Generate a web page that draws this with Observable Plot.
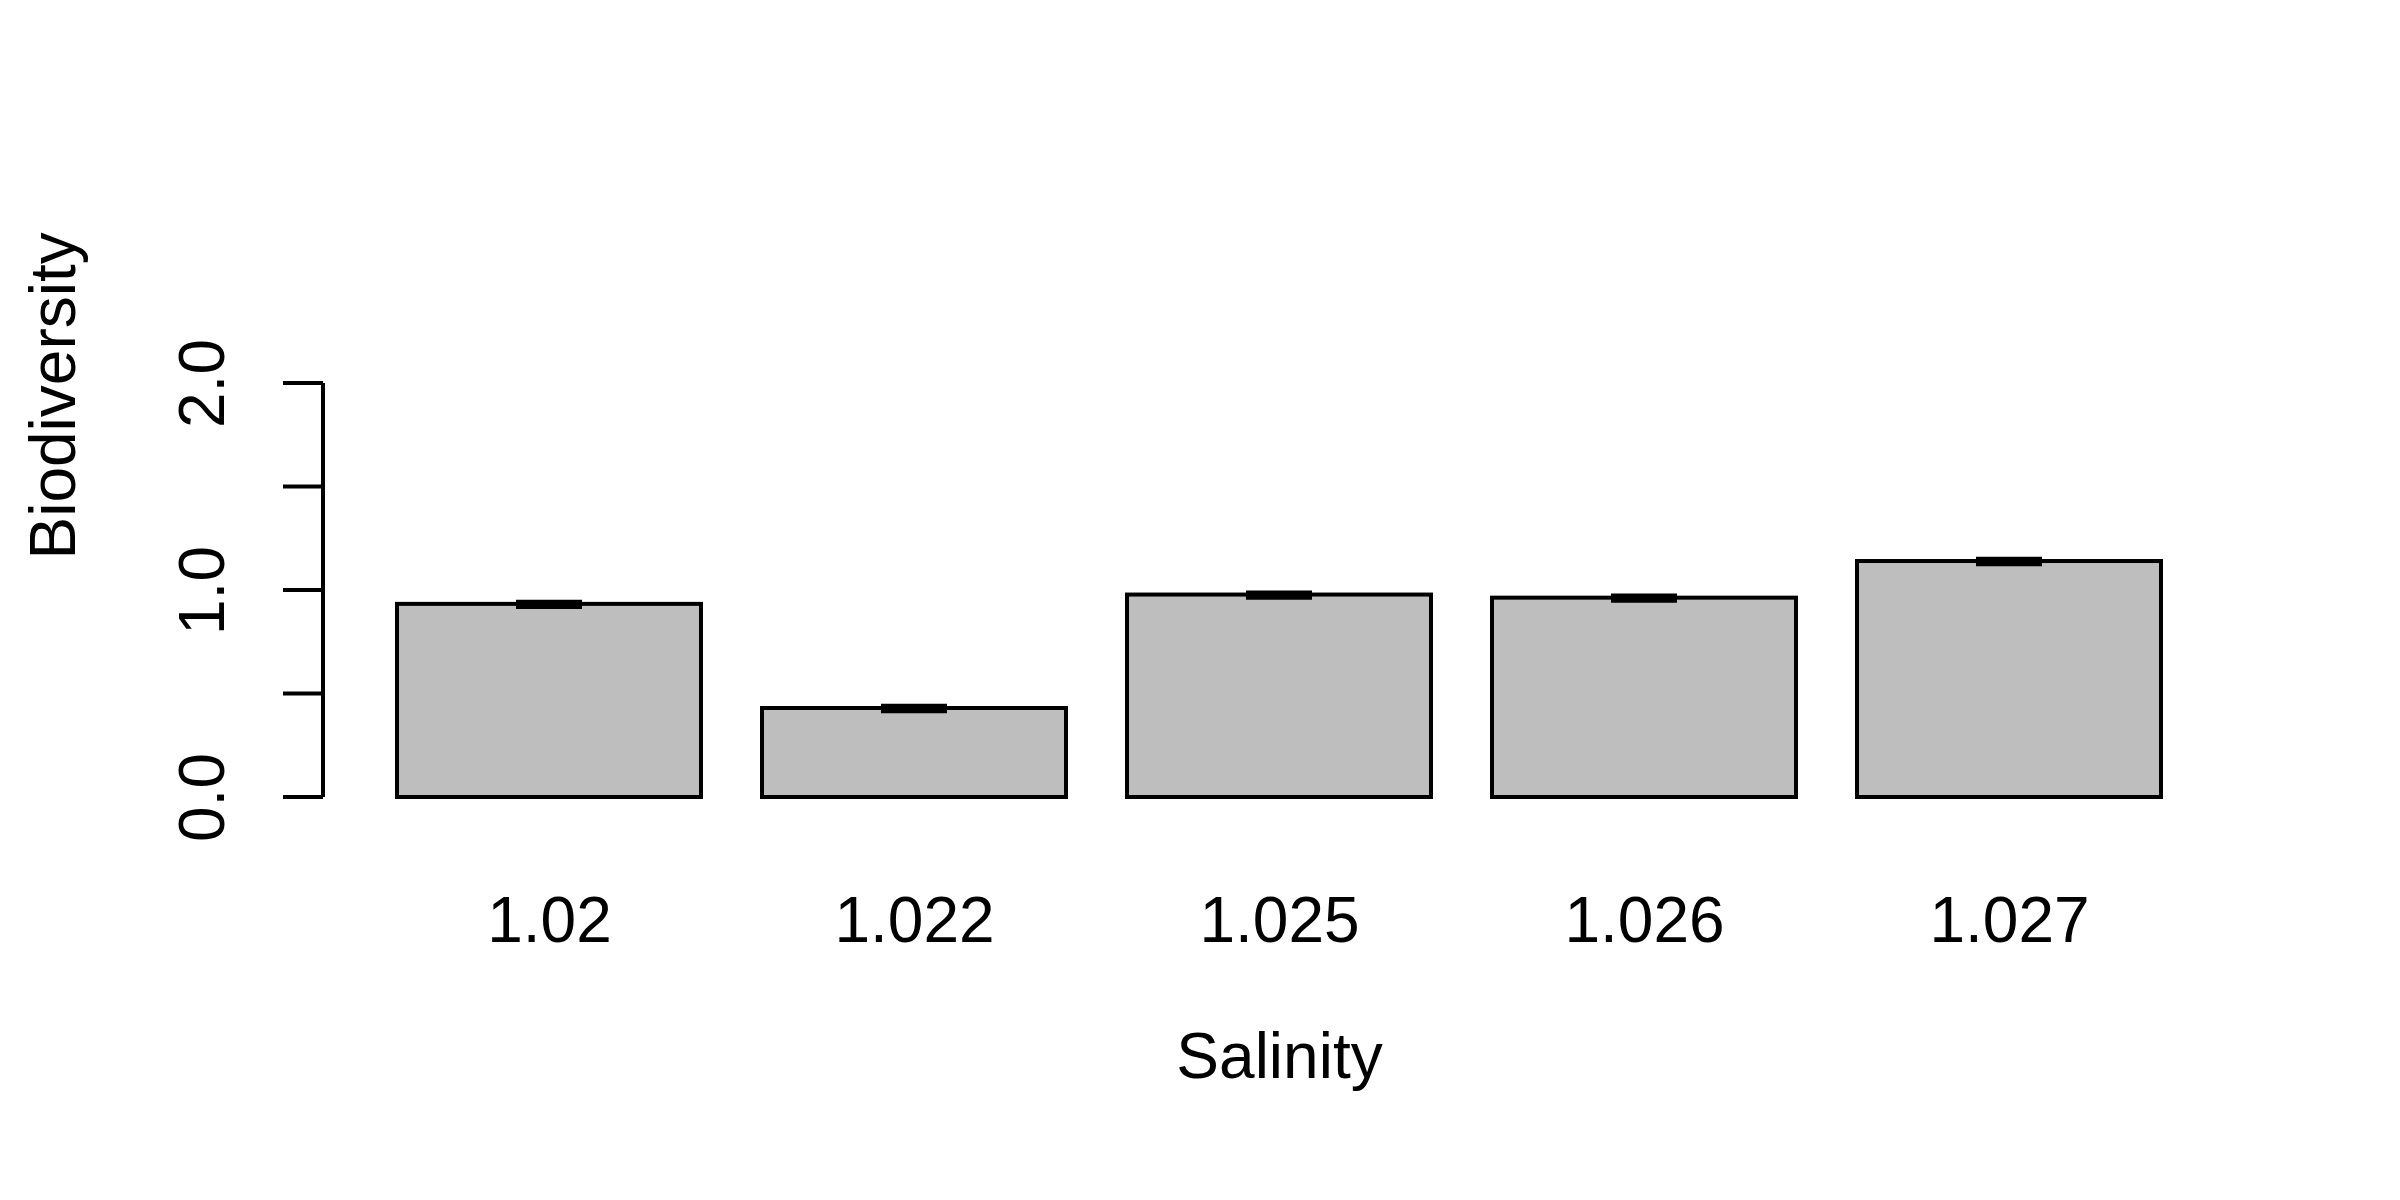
<!DOCTYPE html>
<html>
<head>
<meta charset="utf-8">
<script src="https://cdn.jsdelivr.net/npm/d3@7"></script>
<script src="https://cdn.jsdelivr.net/npm/@observablehq/plot@0.6"></script>
<style>
  body { margin: 0; background: #fff; }
  svg { font-family: "Liberation Sans", Arial, sans-serif; }
</style>
</head>
<body>
<div id="chart"></div>
<script>
const salinity = ["1.02", "1.022", "1.025", "1.026", "1.027"];
const biodiversity = [0.933, 0.43, 0.978, 0.963, 1.14];
const errors = [0.008, 0.008, 0.008, 0.008, 0.008];
const yTicks = [0, 0.5, 1, 1.5, 2];

const data = salinity.map((s, i) => ({s, v: biodiversity[i], e: errors[i]}));

let chart = Plot.plot({
  width: 2400,
  height: 1200,
  marginLeft: 358,
  marginRight: 200,
  marginTop: 383,
  marginBottom: 403,
  style: {fontFamily: "Liberation Sans, Arial, sans-serif", fontSize: "64px", color: "#000", background: "#fff"},
  x: {domain: salinity, paddingInner: 0.167, paddingOuter: 0.1, label: null},
  y: {domain: [0, 2], label: null},
  marks: [
    Plot.barY(data, {x: "s", y: "v", fill: "#bebebe", stroke: "#000", strokeWidth: 4}),
    Plot.ruleX(data, {x: "s", y1: d => d.v - d.e, y2: d => d.v + d.e, stroke: "#000", strokeWidth: 6}),
    Plot.tickY(data, {x: "s", y: d => d.v - d.e, stroke: "#000", strokeWidth: 6, insetLeft: 119, insetRight: 119}),
    Plot.tickY(data, {x: "s", y: d => d.v + d.e, stroke: "#000", strokeWidth: 6, insetLeft: 119, insetRight: 119}),
    Plot.axisX({tickSize: 0, tickPadding: 99, fontSize: 64}),
    Plot.axisY({ticks: yTicks, tickSize: 0, tickFormat: d => d % 1 === 0 ? d.toFixed(1) : "", tickRotate: -90, dx: -35, tickPadding: 100, fontSize: 64}),
    Plot.text(["Salinity"], {frameAnchor: "bottom", dy: 280, text: d => d, fontSize: 64}),
    Plot.text(["Biodiversity"], {frameAnchor: "left", dx: -304, dy: -31, rotate: -90, text: d => d, fontSize: 64})
  ]
});

// R-style y axis line and ticks to the left of the bars
const y = chart.scale("y");
const svg = d3.select(chart);
const ax = 323;
svg.append("line").attr("x1", ax).attr("x2", ax)
  .attr("y1", y.apply(0)).attr("y2", y.apply(2)).attr("stroke", "#000").attr("stroke-width", 4);
yTicks.forEach(t => {
  svg.append("line").attr("x1", ax - 40).attr("x2", ax)
    .attr("y1", y.apply(t)).attr("y2", y.apply(t)).attr("stroke", "#000").attr("stroke-width", 4);
});

d3.select('#chart').append(() => chart);
</script>
</body>
</html>
